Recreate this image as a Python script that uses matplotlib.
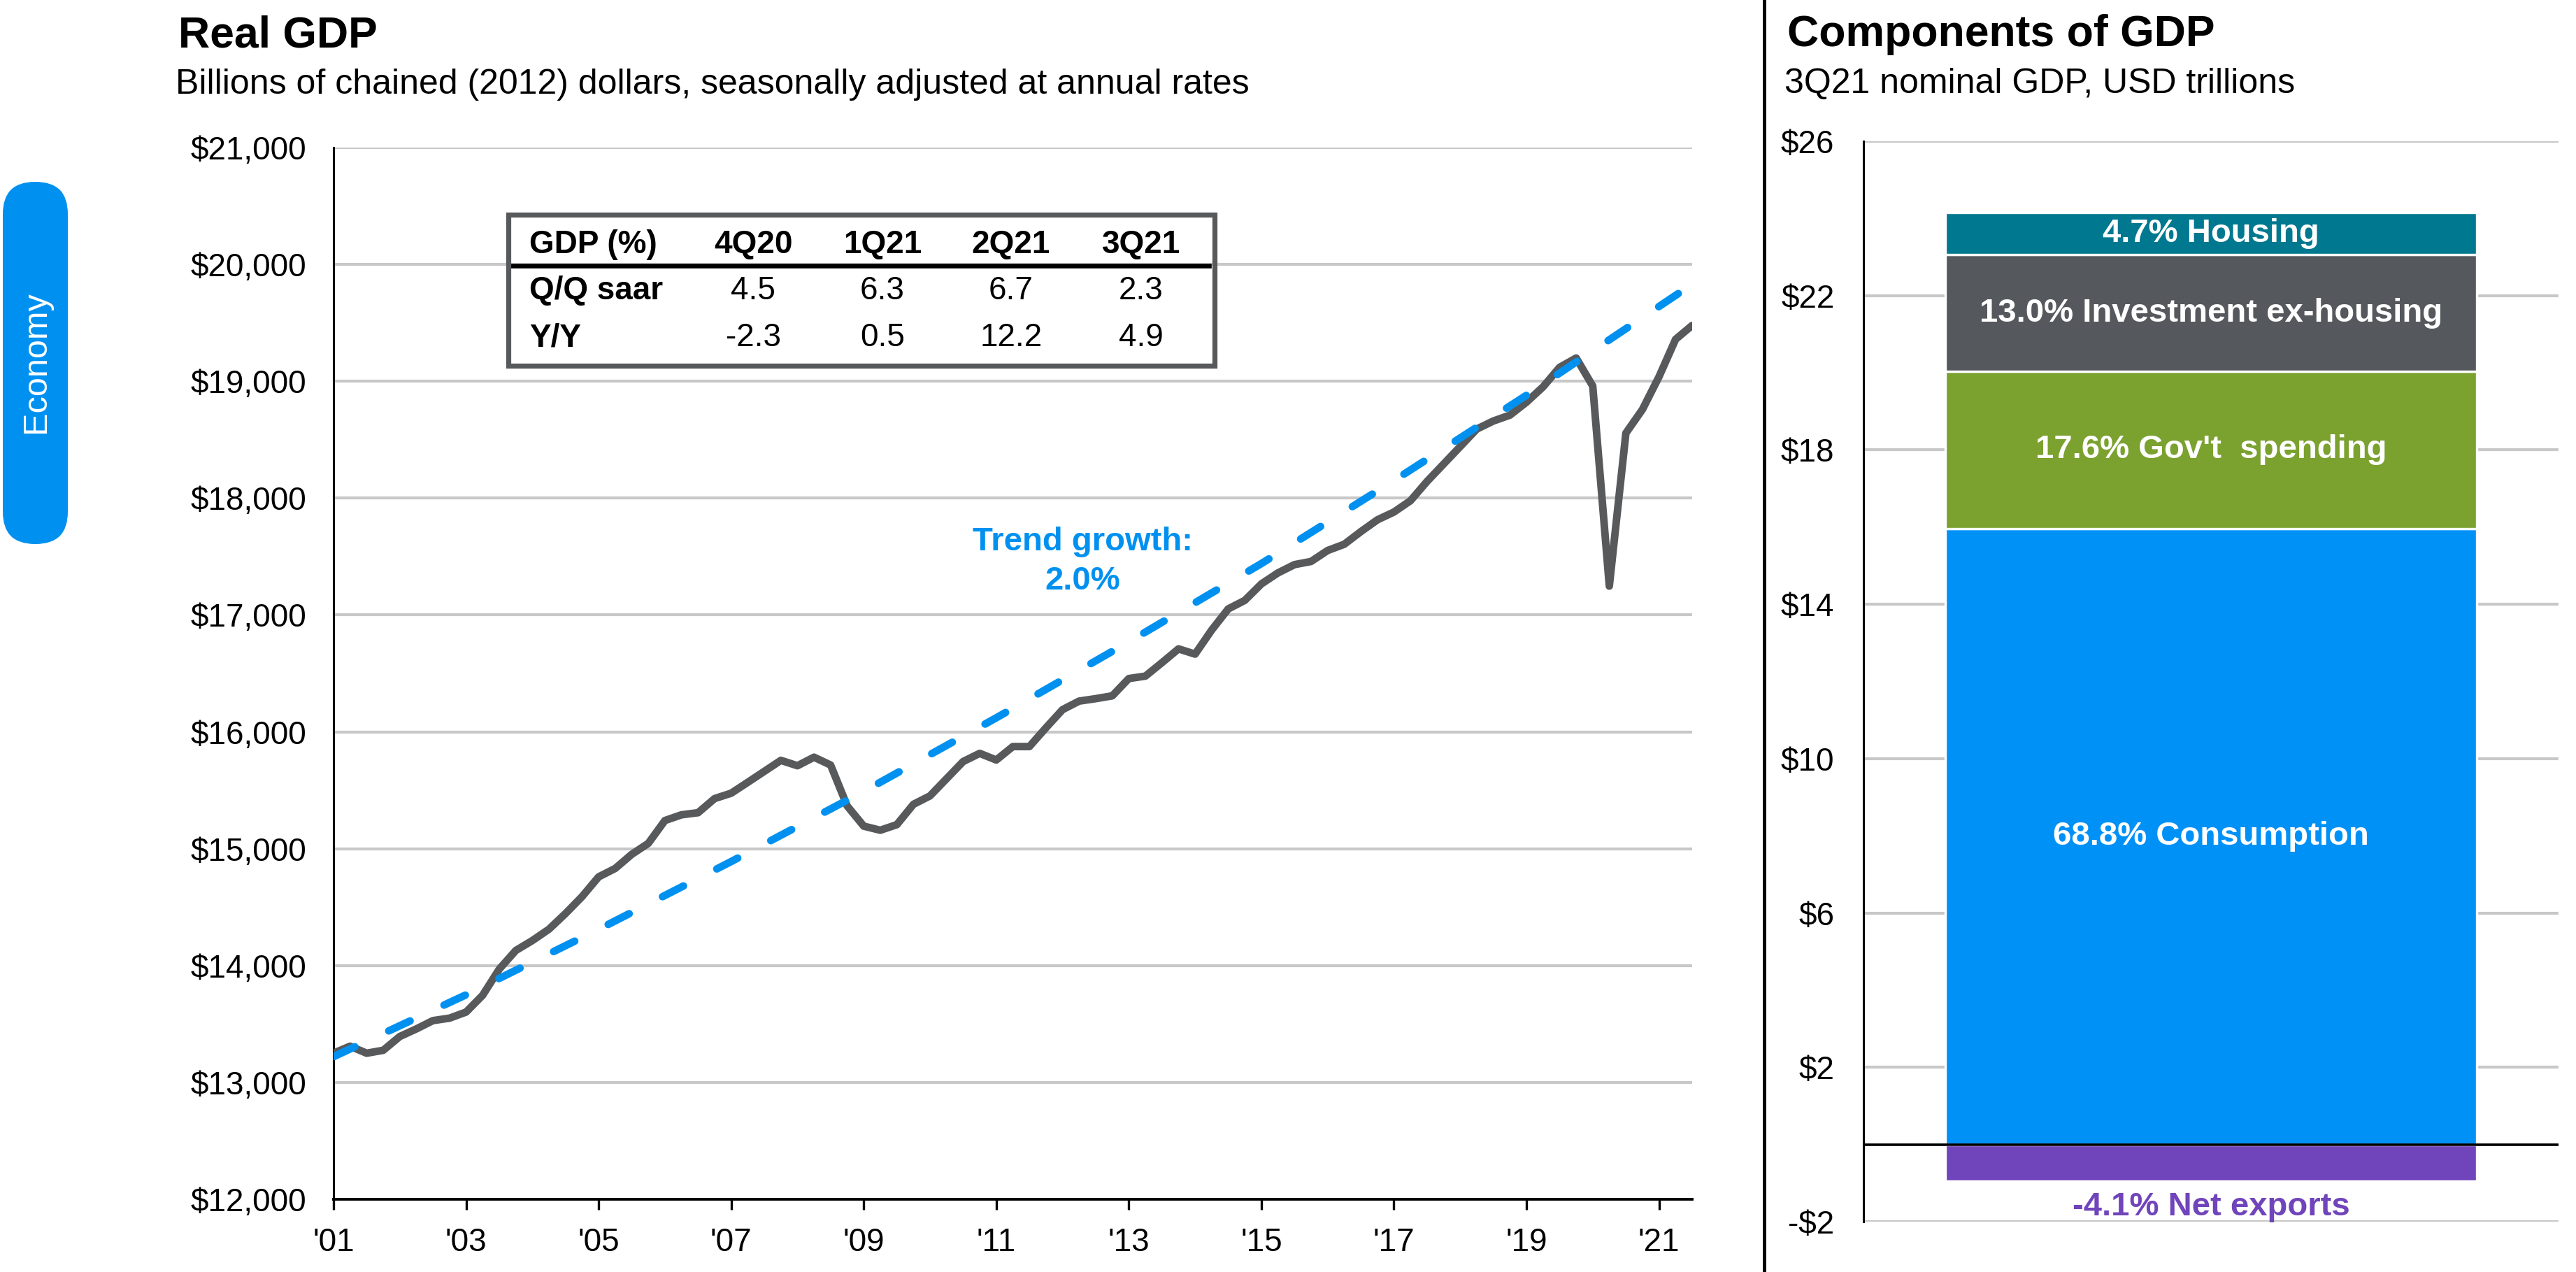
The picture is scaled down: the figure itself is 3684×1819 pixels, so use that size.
import numpy as np
import matplotlib
matplotlib.use("Agg")
import matplotlib.pyplot as plt
from matplotlib.patches import FancyBboxPatch, Rectangle
from matplotlib.lines import Line2D

plt.rcParams['font.family'] = ['Liberation Sans', 'DejaVu Sans']

# ---- data: real GDP, quarterly 1Q01 .. 3Q21 (billions, chained 2012 $)
real_gdp = [13250, 13310, 13250, 13275, 13393, 13458, 13529, 13550,
            13602, 13746, 13969, 14129, 14214, 14311, 14445, 14590,
            14759, 14831, 14952, 15046, 15241, 15290, 15308, 15429,
            15475, 15568, 15662, 15756, 15710, 15783, 15716, 15366,
            15193, 15158, 15206, 15380, 15452, 15599, 15746, 15816,
            15759, 15874, 15874, 16035, 16190, 16263, 16284, 16308,
            16456, 16477, 16592, 16710, 16665, 16871, 17052, 17125,
            17266, 17360, 17431, 17458, 17552, 17605, 17713, 17814,
            17881, 17978, 18143, 18292, 18441, 18591, 18660, 18710,
            18821, 18952, 19119, 19199, 18959, 17247, 18556, 18759,
            19039, 19359, 19478]
quarter_idx = np.arange(len(real_gdp))

# trend growth line (2.0%), read at every 8th quarter and at the end
trend_idx = [0, 8, 16, 24, 32, 40, 48, 56, 64, 72, 80, 82]
trend_vals = [13220, 13750, 14310, 14890, 15490, 16120, 16770, 17440,
              18150, 18880, 19640, 19830]

year_tick_idx = [0, 8, 16, 24, 32, 40, 48, 56, 64, 72, 80]
year_labels = ["'01", "'03", "'05", "'07", "'09", "'11", "'13", "'15",
               "'17", "'19", "'21"]

# table
table_cols = ['4Q20', '1Q21', '2Q21', '3Q21']
qoq_saar = ['4.5', '6.3', '6.7', '2.3']
yoy = ['-2.3', '0.5', '12.2', '4.9']

# components of GDP, 3Q21, USD trillions
comp_names = ['Consumption', "Gov't  spending", 'Investment ex-housing', 'Housing']
comp_share = ['68.8%', '17.6%', '13.0%', '4.7%']
comp_vals = [15.96, 4.08, 3.02, 1.09]
comp_colors = ['#0091F7', '#7BA12F', '#55585C', '#00788F']
netexp_val = -0.95
netexp_share = '-4.1%'
netexp_color = '#7044BA'

W, H = 3684, 1819
DPI = 200


def fx(x):
    return x / W


def fy(y):
    return 1 - y / H


fig = plt.figure(figsize=(W / DPI, H / DPI), dpi=DPI)

gray_line = '#58595B'
blue = '#0091F0'
grid_c = '#C8C8C8'

# ---------------- left: real GDP
ax1 = fig.add_axes([fx(477), fy(1715), fx(2420) - fx(477), fy(211) - fy(1715)])
ax1.plot(quarter_idx, real_gdp, color=gray_line, lw=3.9, zorder=3,
         solid_joinstyle='round', solid_capstyle='round')
ax1.plot(trend_idx, trend_vals, color=blue, lw=3.9, zorder=4,
         dashes=(3.1, 4.95), dash_capstyle='round')
ax1.set_xlim(0, 82)
ax1.set_ylim(12000, 21000)
yt = list(range(12000, 21001, 1000))
ax1.set_yticks(yt)
ax1.set_yticklabels(['${:,}'.format(v) for v in yt])
ax1.set_xticks(year_tick_idx)
ax1.set_xticklabels(year_labels)
ax1.grid(axis='y', color=grid_c, lw=1.5)
ax1.set_axisbelow(True)
for s in ['top', 'right']:
    ax1.spines[s].set_visible(False)
ax1.spines['left'].set_linewidth(1.1)
ax1.spines['bottom'].set_linewidth(1.4)
ax1.tick_params(axis='y', length=0, pad=14, labelsize=16.5)
ax1.tick_params(axis='x', length=5.5, width=1.2, pad=9, labelsize=16.5)

# table box
fig.patches.append(Rectangle((fx(727), fy(523)), fx(1737) - fx(727), fy(307) - fy(523),
                             transform=fig.transFigure, fill=False,
                             edgecolor=gray_line, lw=2.6, zorder=5))
fig.add_artist(Line2D([fx(733), fx(1729)], [fy(380), fy(380)], color='black', lw=2.4))
col_x = [1077, 1262, 1446, 1632]
fig.text(fx(757), fy(362), 'GDP (%)', fontsize=16.5, fontweight='bold', va='baseline')
fig.text(fx(757), fy(428), 'Q/Q saar', fontsize=16.5, fontweight='bold', va='baseline')
fig.text(fx(757), fy(495), 'Y/Y', fontsize=16.5, fontweight='bold', va='baseline')
for cx, c, a, b in zip(col_x, table_cols, qoq_saar, yoy):
    fig.text(fx(cx), fy(362), c, fontsize=16.5, fontweight='bold', ha='center', va='baseline')
    fig.text(fx(cx), fy(428), a, fontsize=16.5, ha='center', va='baseline')
    fig.text(fx(cx), fy(495), b, fontsize=16.5, ha='center', va='baseline')

# trend label
fig.text(fx(1548), fy(787), 'Trend growth:', fontsize=17, fontweight='bold',
         color=blue, ha='center', va='baseline')
fig.text(fx(1548), fy(843), '2.0%', fontsize=17, fontweight='bold',
         color=blue, ha='center', va='baseline')

# titles
fig.text(fx(255), fy(67), 'Real GDP', fontsize=22.5, fontweight='bold', va='baseline')
fig.text(fx(251), fy(134), 'Billions of chained (2012) dollars, seasonally adjusted at annual rates',
         fontsize=18, va='baseline')
fig.text(fx(2556), fy(66), 'Components of GDP', fontsize=22.5, fontweight='bold', va='baseline')
fig.text(fx(2552), fy(133), '3Q21 nominal GDP, USD trillions', fontsize=18, va='baseline')

# separator
fig.add_artist(Line2D([fx(2523), fx(2523)], [0, 1], color='black', lw=1.8))

# Economy tab
tab = FancyBboxPatch((4, H - 778), 93, 518, boxstyle='round,pad=0,rounding_size=46',
                     transform=None, facecolor=blue, edgecolor='none')
fig.patches.append(tab)
fig.text(fx(52), fy(518), 'Economy', color='white', fontsize=17.5, rotation=90,
         ha='center', va='center')

# ---------------- right: components
ax2 = fig.add_axes([fx(2665), fy(1747), fx(3659) - fx(2665), fy(202) - fy(1747)])
bottoms = np.concatenate([[0], np.cumsum(comp_vals)[:-1]])
ax2.bar([0] * len(comp_vals), comp_vals, bottom=bottoms, width=0.764,
        color=comp_colors, edgecolor='white', linewidth=1.2, zorder=3)
ax2.bar([0], [netexp_val], width=0.764, color=netexp_color,
        edgecolor='white', linewidth=1.2, zorder=3)
for b, v, s, n in zip(bottoms, comp_vals, comp_share, comp_names):
    ax2.text(0, b + v / 2, s + ' ' + n, color='white', fontsize=17, fontweight='bold',
             ha='center', va='center', zorder=5)
ax2.text(0, -1.62, netexp_share + ' Net exports', color=netexp_color, fontsize=17,
         fontweight='bold', ha='center', va='center', zorder=5)
ax2.axhline(0, color='black', lw=1.3, zorder=4)
ax2.set_xlim(-0.5, 0.5)
ax2.set_ylim(-2, 26)
yt2 = list(range(-2, 27, 4))
ax2.set_yticks(yt2)
ax2.set_yticklabels([('-$' + str(-v)) if v < 0 else ('$' + str(v)) for v in yt2])
ax2.set_xticks([])
ax2.grid(axis='y', color=grid_c, lw=1.5)
ax2.set_axisbelow(True)
for s in ['top', 'right', 'bottom']:
    ax2.spines[s].set_visible(False)
ax2.spines['left'].set_linewidth(1.1)
ax2.tick_params(axis='y', length=0, pad=15, labelsize=16.5)

fig.savefig('out.png', dpi=DPI)
